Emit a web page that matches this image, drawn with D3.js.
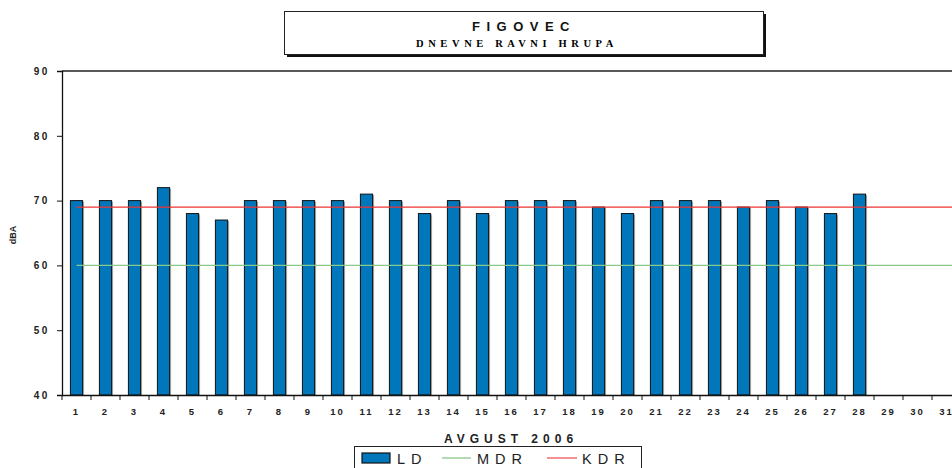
<!DOCTYPE html>
<html><head><meta charset="utf-8">
<script src="https://cdn.jsdelivr.net/npm/d3@7"></script>
<style>body{margin:0;background:#fff;}svg{display:block;}</style>
</head><body>
<svg id="c" width="952" height="468"></svg>
<script>
const days = d3.range(1, 32).map(String);
const ldValues = [70,70,70,72,68,67,70,70,70,70,71,70,68,70,68,70,70,70,69,68,70,70,70,69,70,69,68,71,null,null,null];
const mdrValue = 60;
const kdrValue = 69;
const yTicks = [40,50,60,70,80,90];

const svg = d3.select("#c");
const m = {l:62, t:71, r:961, b:395};
const x = d3.scaleBand().domain(days).range([m.l, m.r]).paddingInner(0.58).paddingOuter(0.29);
const xc = d3.scaleBand().domain(days).range([m.l, m.r]);
const y = d3.scaleLinear().domain([40,90]).range([m.b, m.t]);
const F = "Arial, Liberation Sans, sans-serif";

// top border
svg.append("line").attr("x1", m.l).attr("x2", 952).attr("y1", m.t).attr("y2", m.t)
  .attr("stroke", "#222").attr("stroke-width", 1.3);

// bars
const bars = ldValues.map((v,i)=>({d:days[i], v})).filter(o=>o.v!=null);
svg.append("g").selectAll("rect").data(bars).join("rect")
  .attr("x", d=>x(d.d)+1.5).attr("y", d=>y(d.v)+1).attr("width", x.bandwidth()).attr("height", d=>m.b-y(d.v)-1)
  .attr("fill", "#aaa");
svg.append("g").selectAll("rect").data(bars).join("rect")
  .attr("x", d=>x(d.d)).attr("y", d=>y(d.v)).attr("width", x.bandwidth()).attr("height", d=>m.b-y(d.v))
  .attr("fill", "#0077bb").attr("stroke", "#111").attr("stroke-width", 1);

// lines
const x0 = xc(days[0]) + xc.bandwidth()/2;
svg.append("line").attr("x1", x0).attr("x2", 952).attr("y1", y(mdrValue)).attr("y2", y(mdrValue))
  .attr("stroke", "#88c888").attr("stroke-width", 1.3);
svg.append("line").attr("x1", x0).attr("x2", 952).attr("y1", y(kdrValue)).attr("y2", y(kdrValue))
  .attr("stroke", "#ee3333").attr("stroke-width", 1.3);

// y axis
const ya = svg.append("g").attr("transform", `translate(${m.l},0)`)
  .call(d3.axisLeft(y).tickValues(yTicks).tickSize(5).tickPadding(7.5));
ya.select(".domain").attr("stroke", "#111").attr("stroke-width", 1.3);
ya.selectAll(".tick line").attr("stroke", "#111");
ya.selectAll("text").attr("font-family", F).attr("font-size", 10)
  .attr("font-weight", "bold").attr("letter-spacing", 2.3).attr("fill", "#222");

// x axis
const xa = svg.append("g").attr("transform", `translate(0,${m.b})`)
  .call(d3.axisBottom(xc).tickSize(0).tickPadding(13));
xa.select(".domain").attr("stroke", "#111").attr("stroke-width", 1.3);
xa.selectAll(".tick line").remove();
xa.selectAll("text").attr("font-family", F).attr("font-size", 9.5)
  .attr("font-weight", "bold").attr("letter-spacing", 2).attr("fill", "#222");
svg.append("g").selectAll("line").data(days).join("line")
  .attr("x1", d=>xc(d)).attr("x2", d=>xc(d)).attr("y1", m.b).attr("y2", m.b+5)
  .attr("stroke", "#111");

// y label
svg.append("text").attr("transform", "translate(16,235) rotate(-90)").attr("text-anchor", "middle")
  .attr("font-family", F).attr("font-size", 9).attr("font-weight", "bold")
  .attr("fill", "#222").text("dBA");

// x title
svg.append("text").attr("x", 511).attr("y", 443).attr("text-anchor", "middle")
  .attr("font-family", F).attr("font-size", 12).attr("font-weight", "bold")
  .attr("letter-spacing", 5).attr("fill", "#222").text("AVGUST  2006");

// title box
svg.append("rect").attr("x", 287).attr("y", 14).attr("width", 479).attr("height", 43).attr("fill", "#111");
svg.append("rect").attr("x", 284.5).attr("y", 11.5).attr("width", 479).attr("height", 43)
  .attr("fill", "#fff").attr("stroke", "#222").attr("stroke-width", 1);
svg.append("text").attr("x", 524).attr("y", 31).attr("text-anchor", "middle")
  .attr("font-family", F).attr("font-size", 13).attr("font-weight", "bold")
  .attr("letter-spacing", 6.5).attr("fill", "#111").text("FIGOVEC");
svg.append("text").attr("x", 517).attr("y", 46.5).attr("text-anchor", "middle")
  .attr("font-family", "Liberation Serif, Times New Roman, serif").attr("font-size", 10.5).attr("font-weight", "bold")
  .attr("letter-spacing", 4.6).attr("fill", "#000").text("DNEVNE RAVNI HRUPA");

// legend
const lg = svg.append("g");
lg.append("rect").attr("x", 354.5).attr("y", 446.5).attr("width", 287).attr("height", 30)
  .attr("fill", "#fff").attr("stroke", "#222").attr("stroke-width", 1);
lg.append("rect").attr("x", 362).attr("y", 453).attr("width", 28).attr("height", 10)
  .attr("fill", "#0077bb").attr("stroke", "#111").attr("stroke-width", 1.2);
const lt = (xx, t) => lg.append("text").attr("x", xx).attr("y", 464)
  .attr("font-family", F).attr("font-size", 14.5)
  .attr("letter-spacing", 6).attr("fill", "#222").text(t);
lt(397, "LD");
lg.append("line").attr("x1", 442).attr("x2", 471).attr("y1", 458).attr("y2", 458).attr("stroke", "#88c888").attr("stroke-width", 1.3);
lt(477, "MDR");
lg.append("line").attr("x1", 547).attr("x2", 577).attr("y1", 458).attr("y2", 458).attr("stroke", "#ee5555").attr("stroke-width", 1.3);
lt(582, "KDR");
</script>
</body></html>
